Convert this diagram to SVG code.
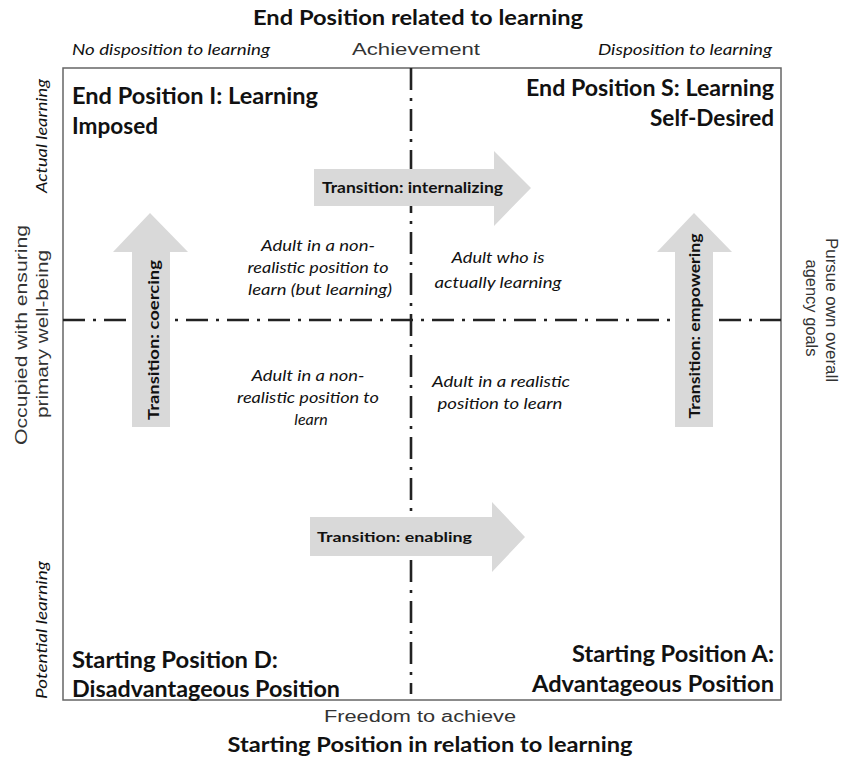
<svg xmlns="http://www.w3.org/2000/svg" width="843" height="758" viewBox="0 0 843 758">
<style>
.t{font-family:"Lato","Liberation Sans",sans-serif;fill:#111}
.b{font-weight:bold}
.i{font-style:italic}
.ax{font-family:"Liberation Sans",sans-serif;fill:#333;font-size:16px}
.arrow{fill:#d9d9d9}
.dd{stroke:#222;stroke-width:2.6;stroke-dasharray:22 8 3 8;fill:none}
</style>
<rect x="0" y="0" width="843" height="758" fill="#fff"/>
<g id="frame"><rect x="63" y="68" width="718" height="632" fill="none" stroke="#666" stroke-width="1.5"/></g>
<g id="connectors">
<line class="dd" x1="411" y1="68" x2="411" y2="694"/>
<line class="dd" x1="63" y1="320" x2="781" y2="320"/>
</g>
<g id="titles">
<text class="t b" x="418" y="25" font-size="20" text-anchor="middle" textLength="330" lengthAdjust="spacingAndGlyphs">End Position related to learning</text>
<text class="t b" x="430" y="752" font-size="20" text-anchor="middle" textLength="405" lengthAdjust="spacingAndGlyphs">Starting Position in relation to learning</text>
<text class="ax" x="416" y="55" text-anchor="middle" textLength="128" lengthAdjust="spacingAndGlyphs">Achievement</text>
<text class="ax" x="420" y="722" text-anchor="middle" textLength="192" lengthAdjust="spacingAndGlyphs">Freedom to achieve</text>
<text class="t i" x="72" y="55" font-size="15" textLength="198" lengthAdjust="spacingAndGlyphs">No disposition to learning</text>
<text class="t i" x="772" y="55" font-size="15" text-anchor="end" textLength="174" lengthAdjust="spacingAndGlyphs">Disposition to learning</text>
<text class="t i" transform="translate(47,136) rotate(-90)" font-size="15" text-anchor="middle" textLength="114" lengthAdjust="spacingAndGlyphs">Actual learning</text>
<text class="t i" transform="translate(47,630) rotate(-90)" font-size="15" text-anchor="middle" textLength="138" lengthAdjust="spacingAndGlyphs">Potential learning</text>
<text class="ax" transform="translate(27,335) rotate(-90)" font-size="18" text-anchor="middle" textLength="220" lengthAdjust="spacingAndGlyphs">Occupied with ensuring</text>
<text class="ax" transform="translate(48,334) rotate(-90)" font-size="18" text-anchor="middle" textLength="168" lengthAdjust="spacingAndGlyphs">primary well-being</text>
<text class="ax" transform="translate(826,310) rotate(90)" font-size="18" text-anchor="middle" textLength="144" lengthAdjust="spacingAndGlyphs">Pursue own overall</text>
<text class="ax" transform="translate(806,308) rotate(90)" font-size="18" text-anchor="middle" textLength="97" lengthAdjust="spacingAndGlyphs">agency goals</text>
</g>
<g id="node-I">
<text class="t b" x="72" y="104" font-size="22" textLength="246" lengthAdjust="spacingAndGlyphs">End Position I: Learning</text>
<text class="t b" x="72" y="134" font-size="22" textLength="86" lengthAdjust="spacingAndGlyphs">Imposed</text>
</g>
<g id="node-S">
<text class="t b" x="774" y="96" font-size="22" text-anchor="end" textLength="248" lengthAdjust="spacingAndGlyphs">End Position S: Learning</text>
<text class="t b" x="774" y="126" font-size="22" text-anchor="end" textLength="124" lengthAdjust="spacingAndGlyphs">Self-Desired</text>
</g>
<g id="node-D">
<text class="t b" x="72" y="668" font-size="22" textLength="206" lengthAdjust="spacingAndGlyphs">Starting Position D:</text>
<text class="t b" x="72" y="697" font-size="22" textLength="268" lengthAdjust="spacingAndGlyphs">Disadvantageous Position</text>
</g>
<g id="node-A">
<text class="t b" x="774" y="662" font-size="22" text-anchor="end" textLength="202" lengthAdjust="spacingAndGlyphs">Starting Position A:</text>
<text class="t b" x="774" y="692" font-size="22" text-anchor="end" textLength="242" lengthAdjust="spacingAndGlyphs">Advantageous Position</text>
</g>
<g id="q1" class="t i" font-size="16" text-anchor="middle">
<text x="318" y="251" textLength="114" lengthAdjust="spacingAndGlyphs">Adult in a non-</text>
<text x="318" y="273" textLength="141" lengthAdjust="spacingAndGlyphs">realistic position to</text>
<text x="320" y="295" textLength="144" lengthAdjust="spacingAndGlyphs">learn (but learning)</text>
</g>
<g id="q2" class="t i" font-size="16" text-anchor="middle">
<text x="498" y="263" textLength="93" lengthAdjust="spacingAndGlyphs">Adult who is</text>
<text x="498" y="288" textLength="127" lengthAdjust="spacingAndGlyphs">actually learning</text>
</g>
<g id="q3" class="t i" font-size="16" text-anchor="middle">
<text x="308" y="381" textLength="113" lengthAdjust="spacingAndGlyphs">Adult in a non-</text>
<text x="308" y="403" textLength="142" lengthAdjust="spacingAndGlyphs">realistic position to</text>
<text x="311" y="425">learn</text>
</g>
<g id="q4" class="t i" font-size="16" text-anchor="middle">
<text x="501" y="387" textLength="138" lengthAdjust="spacingAndGlyphs">Adult in a realistic</text>
<text x="500" y="409" textLength="125" lengthAdjust="spacingAndGlyphs">position to learn</text>
</g>
<g id="arrow-internalizing">
<polygon class="arrow" points="314,169 494,169 494,151 531,188 494,226 494,206 314,206"/>
<text class="t b" x="322" y="193" font-size="15" textLength="181" lengthAdjust="spacingAndGlyphs">Transition: internalizing</text>
</g>
<g id="arrow-enabling">
<polygon class="arrow" points="310,517 492,517 492,502 525,537 492,572 492,556 310,556"/>
<text class="t b" x="317" y="542" font-size="14" textLength="155" lengthAdjust="spacingAndGlyphs">Transition: enabling</text>
</g>
<g id="arrow-coercing">
<polygon class="arrow" points="132,427 132,252 113,252 150,213 188,252 170,252 170,427"/>
<text class="t b" transform="translate(159,340) rotate(-90)" font-size="15" text-anchor="middle" textLength="160" lengthAdjust="spacingAndGlyphs">Transition: coercing</text>
</g>
<g id="arrow-empowering">
<polygon class="arrow" points="675,427 675,252 657,252 694,213 732,252 713,252 713,427"/>
<text class="t b" transform="translate(700,326) rotate(-90)" font-size="15" text-anchor="middle" textLength="185" lengthAdjust="spacingAndGlyphs">Transition: empowering</text>
</g>
</svg>
